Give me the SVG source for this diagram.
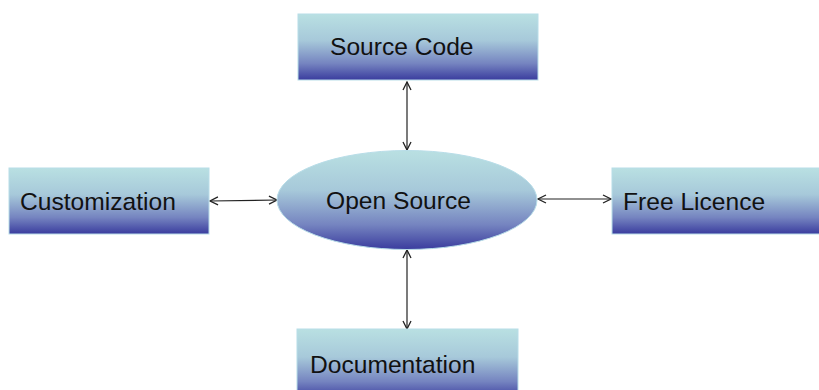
<svg xmlns="http://www.w3.org/2000/svg" width="819" height="390" viewBox="0 0 819 390">
  <defs>
    <linearGradient id="fill" x1="0" y1="0" x2="0" y2="1">
      <stop offset="0" stop-color="#b9e0e2"/>
      <stop offset="0.4" stop-color="#a7c9da"/>
      <stop offset="0.75" stop-color="#7584c0"/>
      <stop offset="1" stop-color="#3a3c9e"/>
    </linearGradient>
    <marker id="head" viewBox="0 0 10 10" refX="9" refY="5" markerWidth="10" markerHeight="10" markerUnits="userSpaceOnUse" orient="auto-start-reverse">
      <path d="M1,1 L9,5 L1,9" fill="none" stroke="#222" stroke-width="1.3"/>
    </marker>
  </defs>
  <style>
    .box { fill: url(#fill); stroke: #b8dde8; stroke-width: 1; }
    .lbl { font-family: "Liberation Sans", Arial, sans-serif; font-size: 24.6px; fill: #111; }
    .conn { stroke: #222; stroke-width: 1.2; fill: none; marker-start: url(#head); marker-end: url(#head); }
  </style>
  <rect width="819" height="390" fill="#fff"/>

  <g id="connectors">
    <line class="conn" x1="407" y1="82" x2="407" y2="150"/>
    <line class="conn" x1="407" y1="250" x2="407" y2="329"/>
    <line class="conn" x1="210" y1="201" x2="277" y2="200"/>
    <line class="conn" x1="538" y1="199" x2="611" y2="199"/>
  </g>

  <g id="source-code">
    <rect class="box" x="298" y="14" width="240" height="66"/>
    <text class="lbl" x="330" y="55">Source Code</text>
  </g>

  <g id="customization">
    <rect class="box" x="9" y="168" width="200" height="66"/>
    <text class="lbl" x="20" y="210">Customization</text>
  </g>

  <g id="open-source">
    <ellipse class="box" cx="407" cy="200" rx="130" ry="49.5"/>
    <text class="lbl" x="326" y="209">Open Source</text>
  </g>

  <g id="free-licence">
    <rect class="box" x="612" y="168" width="210" height="66"/>
    <text class="lbl" x="623" y="210">Free Licence</text>
  </g>

  <g id="documentation">
    <rect class="box" x="297" y="329" width="221" height="70"/>
    <text class="lbl" x="310" y="373">Documentation</text>
  </g>
</svg>
